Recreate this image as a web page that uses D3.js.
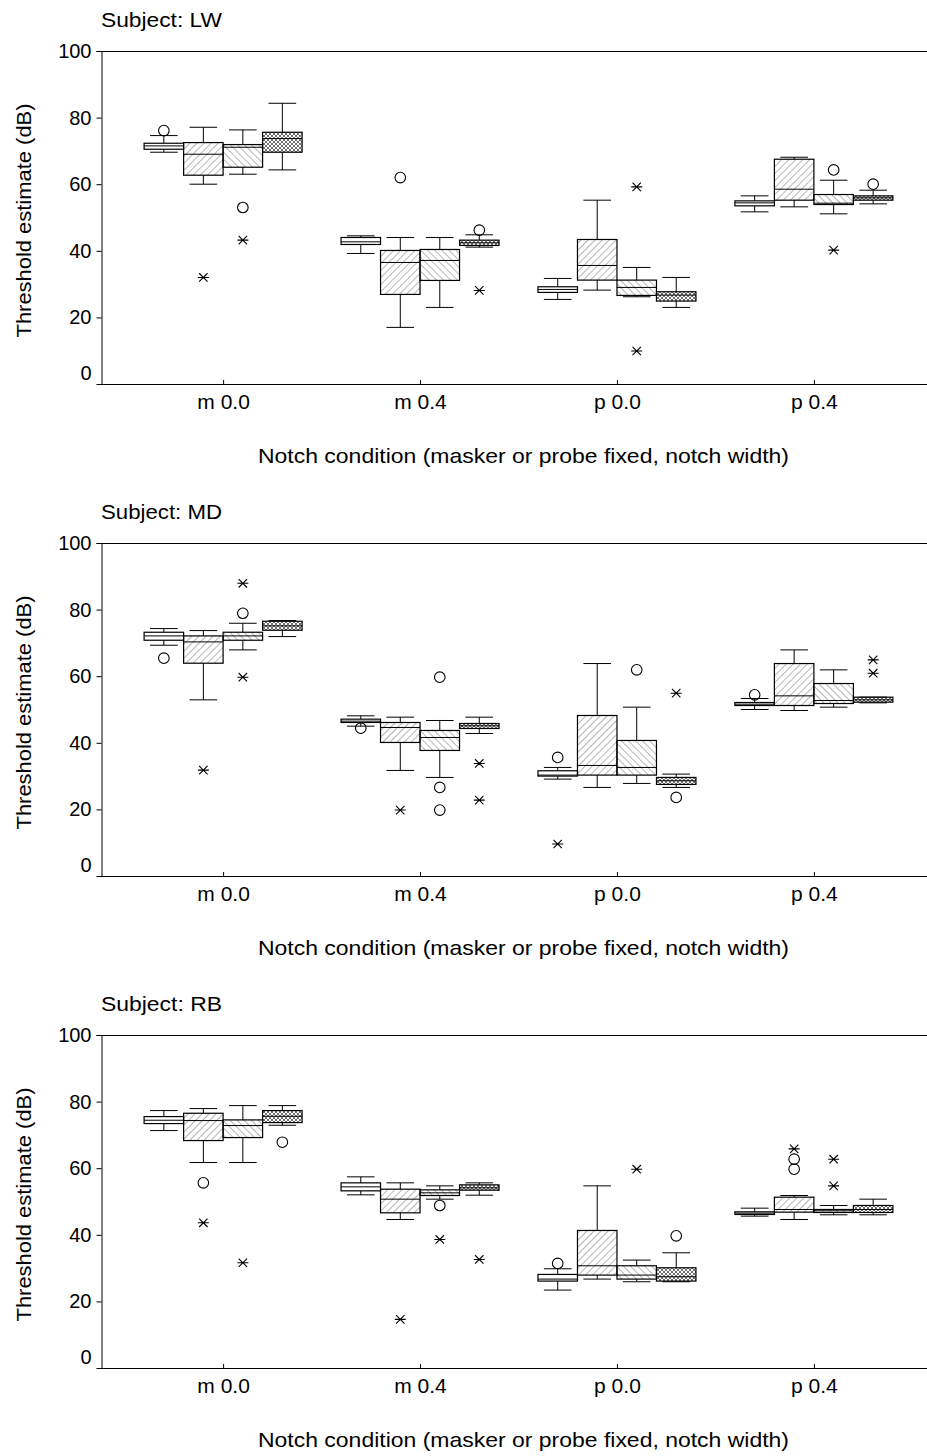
<!DOCTYPE html>
<html>
<head>
<meta charset="utf-8">
<script src="https://cdn.jsdelivr.net/npm/d3@7"></script>
<style>
  body { margin: 0; background: #fff; }
  svg { display: block; font-family: "Liberation Sans", Arial, sans-serif; }
</style>
</head>
<body>
<div id="canvas"></div>
<script>
// conditions on the x axis and the four series drawn in each group
const conditions = ["m 0.0", "m 0.4", "p 0.0", "p 0.4"];
const series = ["s1", "s2", "s3", "s4"];
const yTicks = [0, 20, 40, 60, 80, 100];

// box stats per condition x series: [low whisker, q1, median, q3, high whisker]
const lwBoxes = [
  [69.6, 70.5, 71.5, 72.3, 74.6], [60, 62.7, 69, 72.5, 77.1], [63, 65.1, 71.1, 71.9, 76.3], [64.3, 69.6, 73.7, 75.6, 84.3],
  [39.2, 41.9, 42.7, 44.0, 44.5], [17, 26.9, 36.5, 40.1, 44], [23, 31.1, 37.1, 40.4, 44], [41.1, 41.6, 42.4, 43.2, 44.8],
  [25.4, 27.5, 28.4, 29.2, 31.7], [28.2, 31.2, 35.6, 43.4, 55.2], [26.2, 26.6, 29, 31.2, 35], [23, 24.9, 26.7, 27.7, 32],
  [51.7, 53.5, 54.4, 55, 56.5], [53.2, 55.2, 58.5, 67.5, 68.1], [51.1, 53.9, 54.3, 56.9, 61.2], [54.1, 55.2, 55.9, 56.5, 58.2]
];
const lwCircles = [[0, 0, 76.1], [0, 2, 53], [1, 1, 62], [1, 3, 46.2], [3, 2, 64.3], [3, 3, 60]];
const lwStars = [[0, 1, 32], [0, 2, 43.2], [1, 3, 28.1], [2, 2, 59.2], [2, 2, 9.9], [3, 2, 40.2]];

const mdBoxes = [
  [69.3, 70.8, 72.1, 73.2, 74.3], [52.9, 63.9, 70.3, 72.1, 73.7], [67.9, 70.8, 72.1, 73.2, 75.9], [71.9, 73.8, 75.1, 76.5, 76.7],
  [45, 46.1, 46.5, 47.1, 48.1], [31.7, 40.1, 44.6, 46.1, 47.7], [29.6, 37.7, 41.6, 43.7, 46.7], [42.8, 44.3, 45.1, 45.8, 47.7],
  [29.1, 30, 30.3, 31.6, 32.6], [26.6, 30.3, 33.2, 48.2, 63.8], [27.8, 30.3, 32.6, 40.7, 50.7], [26.6, 27.5, 28.6, 29.6, 30.6],
  [50, 51.2, 51.6, 52.1, 53.3], [49.7, 51.2, 54.1, 63.8, 67.9], [50.7, 51.8, 52.7, 57.8, 61.9], [52, 52.2, 52.9, 53.7, 53.7]
];
const mdCircles = [[0, 0, 65.4], [0, 2, 78.9], [1, 0, 44.4], [1, 2, 59.7], [1, 2, 26.6], [1, 2, 19.8],
  [2, 0, 35.6], [2, 2, 61.9], [2, 3, 23.6], [3, 0, 54.4]];
const mdStars = [[0, 1, 31.8], [0, 2, 87.9], [0, 2, 59.7], [1, 1, 19.8], [1, 3, 33.8], [1, 3, 22.8],
  [2, 0, 9.6], [2, 3, 54.9], [3, 3, 64.9], [3, 3, 60.9]];

const rbBoxes = [
  [71.3, 73.4, 74.4, 75.5, 77.3], [61.7, 68.3, 74.3, 76.5, 77.9], [61.7, 69.2, 72.8, 74.5, 78.8], [72.9, 73.7, 75.6, 77.3, 78.8],
  [52, 53.2, 54.4, 55.6, 57.4], [44.6, 46.6, 50.7, 53.7, 55.6], [50.7, 51.8, 52.6, 53.5, 54.7], [51.9, 53.4, 54.1, 55, 55.6],
  [23.4, 26.1, 26.7, 28.1, 29.8], [26.7, 27.9, 30.7, 41.3, 54.7], [25.9, 26.7, 27.9, 30.7, 32.4], [25.9, 26.1, 27.4, 30.1, 34.6],
  [45.6, 46.1, 46.5, 46.9, 48], [44.6, 46.8, 47.6, 51.3, 51.8], [46, 46.7, 47.2, 47.6, 48.8], [46, 46.7, 47.6, 48.8, 50.7]
];
const rbCircles = [[0, 1, 55.6], [0, 3, 67.8], [1, 2, 48.8], [2, 0, 31.4], [2, 3, 39.7], [3, 1, 62.7], [3, 1, 59.7]];
const rbStars = [[0, 1, 43.6], [0, 2, 31.6], [1, 1, 14.6], [1, 2, 38.6], [1, 3, 32.6], [2, 2, 59.7],
  [3, 1, 65.8], [3, 2, 62.7], [3, 2, 54.7]];

const subjects = ["LW", "MD", "RB"];
const panels = [
  { boxes: lwBoxes, circles: lwCircles, stars: lwStars },
  { boxes: mdBoxes, circles: mdCircles, stars: mdStars },
  { boxes: rbBoxes, circles: rbCircles, stars: rbStars }
];

const W = 927, H = 1456;
const left = 101, plotH = 333;
const tops = [51, 543, 1035];

const svg = d3.select("#canvas").append("svg").attr("width", W).attr("height", H);

// fill patterns
const defs = svg.append("defs");
const hatch = (id, angle) => {
  const p = defs.append("pattern").attr("id", id)
    .attr("patternUnits", "userSpaceOnUse").attr("width", 5).attr("height", 5)
    .attr("patternTransform", "rotate(" + angle + ")");
  p.append("line").attr("x1", 0).attr("y1", -1).attr("x2", 0).attr("y2", 6)
    .attr("stroke", "#6e6e6e").attr("stroke-width", 1);
};
hatch("fwd", 45);
hatch("back", -45);
const cross = defs.append("pattern").attr("id", "cross")
  .attr("patternUnits", "userSpaceOnUse").attr("width", 4).attr("height", 4);
cross.append("path").attr("d", "M0,0L4,4M4,0L0,4")
  .attr("stroke", "#606060").attr("stroke-width", 0.9).attr("fill", "none");
const fills = { s1: "#fff", s2: "url(#fwd)", s3: "url(#back)", s4: "url(#cross)" };

const x = d3.scalePoint().domain(conditions).range([left, 936]).padding(0.62);
const sub = d3.scaleBand().domain(series).range([-79, 79]);
const bw = sub.bandwidth();
const capW = bw * 0.7;

panels.forEach((pd, pi) => {
  const top = tops[pi];
  const y = d3.scaleLinear().domain([0, 100]).range([top + plotH, top]);
  const g = svg.append("g");

  // frame: top line and x axis line
  g.append("line").attr("x1", left).attr("x2", W).attr("y1", top + 0.5).attr("y2", top + 0.5)
    .attr("stroke", "#000");

  const xAxis = g.append("g").attr("transform", "translate(0," + (top + plotH) + ")")
    .call(d3.axisBottom(x).tickSize(-4).tickPadding(10));
  xAxis.select(".domain").attr("d", "M" + left + ",0.5H" + W);
  xAxis.selectAll("text").attr("font-size", 21).attr("font-family", "Liberation Sans, Arial, sans-serif")
    .attr("fill", "#000");

  const yAxis = g.append("g").attr("transform", "translate(" + (left + 0.5) + ",0)")
    .call(d3.axisLeft(y).tickValues(yTicks).tickSize(5).tickPadding(5));
  yAxis.selectAll("text").attr("font-size", 20).attr("font-family", "Liberation Sans, Arial, sans-serif")
    .attr("fill", "#000");
  yAxis.selectAll(".tick").filter((d) => d === 0).select("text").attr("dy", "-0.25em");
  yAxis.selectAll(".tick").filter((d) => d === 0).select("line").remove();

  g.append("text").attr("x", left).attr("y", top - 24).attr("font-size", 21)
    .attr("textLength", 121).attr("lengthAdjust", "spacingAndGlyphs")
    .text("Subject: " + subjects[pi]);

  g.append("text")
    .attr("transform", "translate(31," + (top + plotH / 2 + 3) + ") rotate(-90)")
    .attr("text-anchor", "middle").attr("font-size", 21)
    .attr("textLength", 234).attr("lengthAdjust", "spacingAndGlyphs")
    .text("Threshold estimate (dB)");

  g.append("text").attr("x", 523.5).attr("y", top + plotH + 79)
    .attr("text-anchor", "middle").attr("font-size", 21)
    .attr("textLength", 531).attr("lengthAdjust", "spacingAndGlyphs")
    .text("Notch condition (masker or probe fixed, notch width)");

  const rows = pd.boxes.map((b, i) => ({
    c: conditions[Math.floor(i / 4)], s: series[i % 4],
    lo: b[0], q1: b[1], med: b[2], q3: b[3], hi: b[4]
  }));
  const cx = (d) => x(d.c) + sub(d.s) + bw / 2;

  const box = g.selectAll(".box").data(rows).join("g").attr("class", "box");
  box.append("line").attr("x1", cx).attr("x2", cx).attr("y1", (d) => y(d.q3)).attr("y2", (d) => y(d.hi))
    .attr("stroke", "#000");
  box.append("line").attr("x1", cx).attr("x2", cx).attr("y1", (d) => y(d.q1)).attr("y2", (d) => y(d.lo))
    .attr("stroke", "#000");
  box.append("line").attr("x1", (d) => cx(d) - capW / 2).attr("x2", (d) => cx(d) + capW / 2)
    .attr("y1", (d) => y(d.hi)).attr("y2", (d) => y(d.hi)).attr("stroke", "#000");
  box.append("line").attr("x1", (d) => cx(d) - capW / 2).attr("x2", (d) => cx(d) + capW / 2)
    .attr("y1", (d) => y(d.lo)).attr("y2", (d) => y(d.lo)).attr("stroke", "#000");
  box.append("rect").attr("x", (d) => x(d.c) + sub(d.s)).attr("width", bw)
    .attr("y", (d) => y(d.q3)).attr("height", (d) => y(d.q1) - y(d.q3))
    .attr("fill", (d) => fills[d.s]).attr("stroke", "#000").attr("stroke-width", 1.2);
  box.append("line").attr("x1", (d) => x(d.c) + sub(d.s)).attr("x2", (d) => x(d.c) + sub(d.s) + bw)
    .attr("y1", (d) => y(d.med)).attr("y2", (d) => y(d.med)).attr("stroke", "#000");

  const px = (d) => x(conditions[d[0]]) + sub(series[d[1]]) + bw / 2;
  g.selectAll(".circ").data(pd.circles).join("circle").attr("class", "circ")
    .attr("cx", px).attr("cy", (d) => y(d[2])).attr("r", 5.3)
    .attr("fill", "none").attr("stroke", "#000").attr("stroke-width", 1.1);
  g.selectAll(".star").data(pd.stars).join("path").attr("class", "star")
    .attr("transform", (d) => "translate(" + px(d) + "," + y(d[2]) + ")")
    .attr("d", "M-5.5,0H5.5M-4.2,-4.2L4.2,4.2M-4.2,4.2L4.2,-4.2")
    .attr("stroke", "#000").attr("stroke-width", 1.1).attr("fill", "none");
});
</script>
</body>
</html>
